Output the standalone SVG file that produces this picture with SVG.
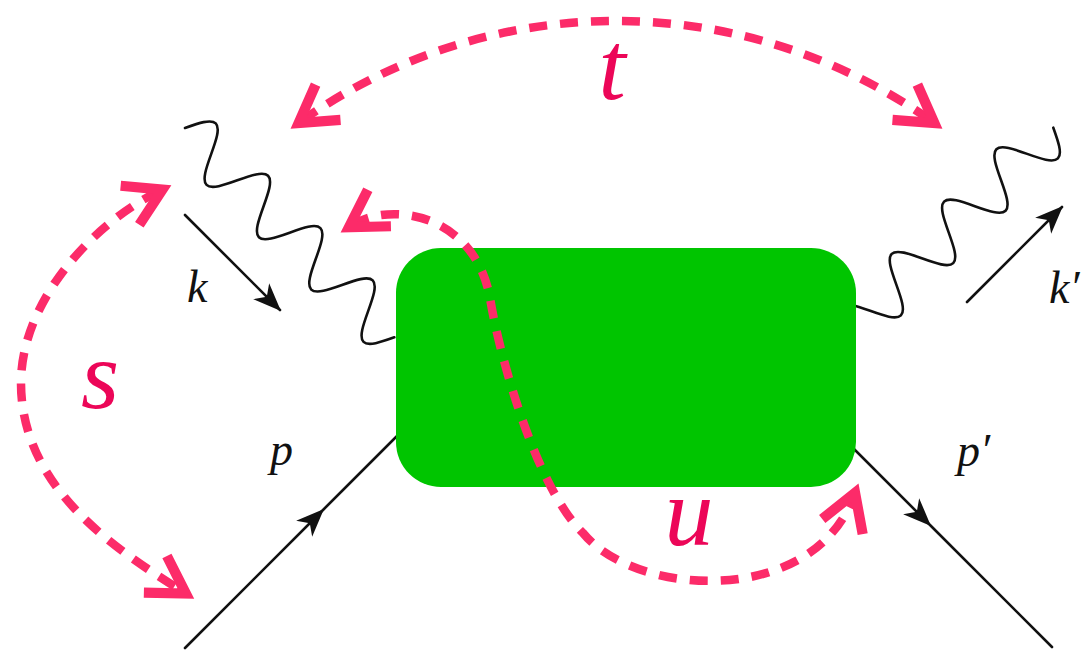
<svg xmlns="http://www.w3.org/2000/svg" width="1086" height="655" viewBox="0 0 1086 655">
  <style>
    .photon { fill: none; stroke: #111; stroke-width: 2.6; stroke-linecap: round; stroke-linejoin: round; }
    .fermion { fill: none; stroke: #111; stroke-width: 2.6; stroke-linecap: round; }
    .chan { fill: none; stroke: #fc2b69; stroke-width: 8.5; stroke-dasharray: 18 13; }
    .mlabel { font-family: "Liberation Serif", "DejaVu Serif", serif; font-style: italic; font-size: 46px; fill: #111; }
    .clabel { font-family: "Liberation Serif", "DejaVu Serif", serif; font-style: italic; font-size: 98px; fill: #ec0658; text-anchor: middle; }
  </style>
  <defs>
    <path id="wave" d="M0,0 C6.03,-12.81 11.81,-25 18.5,-25 S30.97,-12.81 37,0 S48.81,25 55.5,25 S67.97,12.81 74,0 S85.81,-25 92.5,-25 S104.97,-12.81 111,0 S122.81,25 129.5,25 S141.97,12.81 148,0 S159.81,-25 166.5,-25 S178.97,-12.81 185,0 S196.81,25 203.5,25 S215.97,12.81 222,0 S233.81,-25 240.5,-25 S252.97,-12.81 259,0 S270.81,25 277.5,25 S289.97,12.81 296,0"/>
    <marker id="blackhead" markerUnits="userSpaceOnUse" markerWidth="40" markerHeight="40" viewBox="-25 -12 30 24" refX="0" refY="0" orient="auto" overflow="visible">
      <path d="M1,0 L-20,-8.5 L-14,0 L-20,8.5 Z" fill="#111"/>
    </marker>
    <marker id="pinkhead" markerUnits="userSpaceOnUse" markerWidth="60" markerHeight="60" viewBox="-45 -25 50 50" refX="0" refY="0" orient="auto-start-reverse" overflow="visible">
      <path d="M-27,-18 L3,0 L-27,18" fill="none" stroke="#fc2b69" stroke-width="8.5" stroke-linejoin="miter" stroke-miterlimit="6"/>
    </marker>
  </defs>

  <rect width="1086" height="655" fill="#ffffff"/>

  <g id="photon-k">
    <use href="#wave" class="photon" transform="translate(185,128) rotate(45)"/>
  </g>
  <g id="photon-kprime">
    <use href="#wave" class="photon" transform="translate(844,337) rotate(-45)"/>
  </g>
  <g id="fermion-p">
    <path class="fermion" d="M185,648 L323,510 L410,423" marker-mid="url(#blackhead)"/>
  </g>
  <g id="fermion-pprime">
    <path class="fermion" d="M840,435 L930,525 L1052,647" marker-mid="url(#blackhead)"/>
  </g>
  <g id="momentum-k">
    <path class="fermion" d="M185,215 L280,310" marker-end="url(#blackhead)"/>
  </g>
  <g id="momentum-kprime">
    <path class="fermion" d="M967,302 L1062,207" marker-end="url(#blackhead)"/>
  </g>

  <g id="blob">
    <rect x="396" y="248" width="460" height="239" rx="45" ry="45" fill="#00c500"/>
  </g>

  <g id="connectors">
    <path id="t-channel" class="chan" d="M301.6,120.9 A546,546 0 0 1 931.4,120.9" marker-start="url(#pinkhead)" marker-end="url(#pinkhead)"/>
    <path id="s-channel" class="chan" d="M159.2,191.2 C95,222 21,300 21,383 C21,490 120,552 182.8,591.6" marker-start="url(#pinkhead)" marker-end="url(#pinkhead)"/>
    <path id="u-channel" class="chan" d="M352,225.3 C392,200 475,215 490,298 C500,360 538,490 583,533 C635,597 812,608 853.8,496.2" marker-start="url(#pinkhead)" marker-end="url(#pinkhead)"/>
  </g>

  <g id="labels">
    <text class="mlabel" x="187" y="302">k</text>
    <text class="mlabel" x="1049" y="303">k′</text>
    <text class="mlabel" x="270" y="465">p</text>
    <text class="mlabel" x="957" y="466">p′</text>
    <text class="clabel" x="612" y="99">t</text>
    <text class="clabel" x="100" y="408">s</text>
    <text class="clabel" x="689" y="545">u</text>
  </g>
</svg>
